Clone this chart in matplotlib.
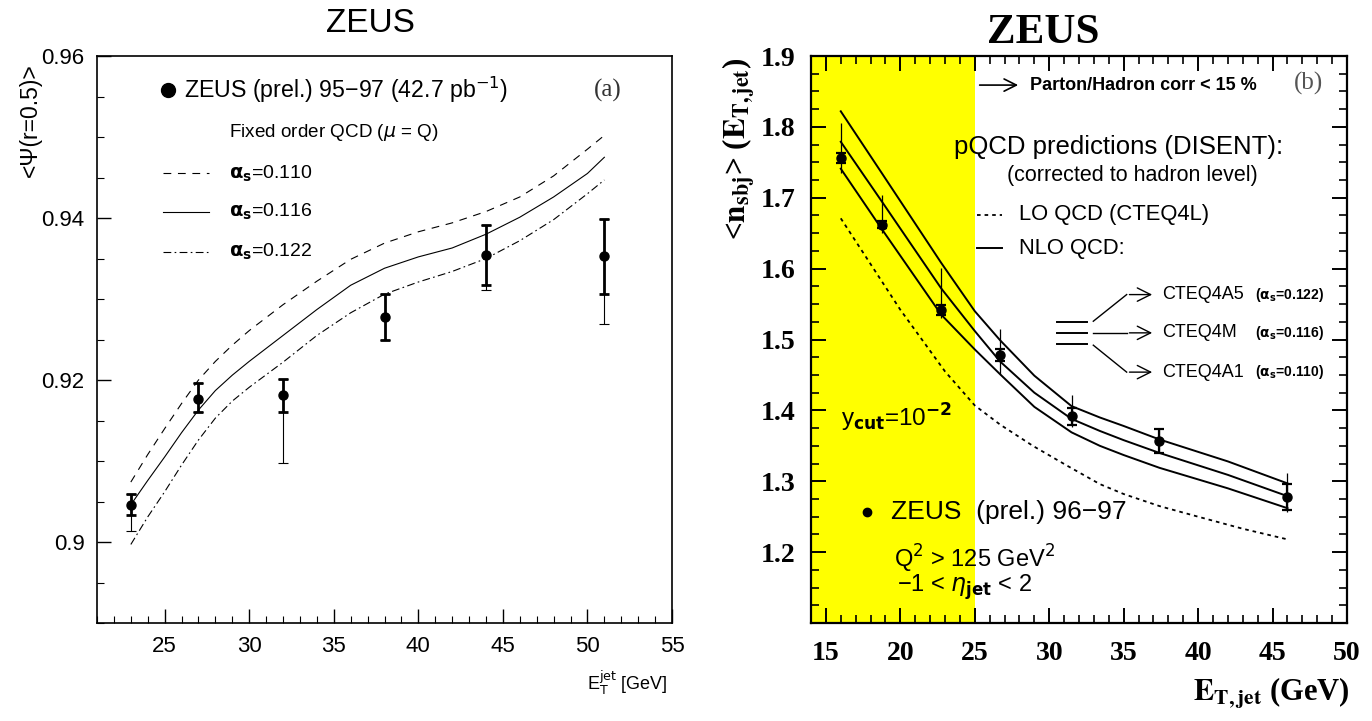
import numpy as np
import matplotlib.pyplot as plt
from matplotlib.ticker import MultipleLocator, FixedLocator

plt.rcParams['font.family'] = ['Liberation Sans', 'DejaVu Sans']

# ---- panel (a): <psi(r=0.5)> vs ET jet ----
et_a = [23, 27, 32, 38, 44, 51]
psi = [0.9046, 0.9177, 0.9181, 0.9278, 0.9354, 0.9353]
psi_stat_lo = [0.0013, 0.0017, 0.0020, 0.0028, 0.0037, 0.0047]
psi_stat_hi = [0.0013, 0.0019, 0.0020, 0.0028, 0.0037, 0.0046]
psi_tot_lo = [0.0032, 0.0017, 0.0084, 0.0028, 0.0043, 0.0084]
psi_tot_hi = [0.0013, 0.0019, 0.0020, 0.0028, 0.0037, 0.0046]

et_curve_a = [23, 24, 25, 26, 27, 28, 29, 30, 32, 34, 36, 38, 40, 42, 44, 46, 48, 50, 51]
psi_a110 = [0.9074, 0.9108, 0.9140, 0.9171, 0.9200, 0.9223, 0.9243, 0.9261, 0.9293, 0.9322,
            0.9349, 0.9369, 0.9383, 0.9394, 0.9408, 0.9426, 0.9452, 0.9485, 0.9502]
psi_a116 = [0.9046, 0.9076, 0.9105, 0.9135, 0.9163, 0.9187, 0.9206, 0.9223, 0.9255, 0.9287,
            0.9317, 0.9338, 0.9352, 0.9363, 0.9380, 0.9401, 0.9426, 0.9455, 0.9475]
psi_a122 = [0.8997, 0.9031, 0.9062, 0.9095, 0.9126, 0.9153, 0.9174, 0.9191, 0.9222, 0.9255,
            0.9283, 0.9306, 0.9321, 0.9334, 0.9350, 0.9372, 0.9398, 0.9430, 0.9447]

# ---- panel (b): <n_sbj> vs ET jet ----
et_b = [16.0, 18.75, 22.75, 26.7, 31.55, 37.4, 46.0]
nsbj = [1.756, 1.662, 1.542, 1.478, 1.392, 1.357, 1.278]
nsbj_stat = [0.007, 0.005, 0.007, 0.008, 0.012, 0.017, 0.018]
nsbj_tot_lo = [0.021, 0.012, 0.012, 0.027, 0.016, 0.017, 0.022]
nsbj_tot_hi = [0.049, 0.042, 0.059, 0.037, 0.030, 0.017, 0.033]

et_nlo = [16, 18.75, 22.75, 25, 26.7, 29, 31.5, 33.4, 35, 37.4, 42, 46]
nlo_122 = [1.822, 1.735, 1.608, 1.540, 1.499, 1.449, 1.406, 1.390, 1.378, 1.359, 1.328, 1.297]
nlo_116 = [1.779, 1.695, 1.572, 1.512, 1.469, 1.425, 1.388, 1.371, 1.358, 1.340, 1.309, 1.279]
nlo_110 = [1.741, 1.656, 1.535, 1.486, 1.451, 1.405, 1.369, 1.350, 1.337, 1.319, 1.290, 1.262]

et_lo = [16, 20, 23, 25, 26.7, 28.9, 31.2, 33.4, 35, 37.4, 40, 43, 46]
lo_cteq4l = [1.671, 1.542, 1.455, 1.407, 1.380, 1.350, 1.322, 1.296, 1.282, 1.265, 1.250, 1.233, 1.218]

fig = plt.figure(figsize=(13.72, 7.21), dpi=100)

# ================= left panel =================
ax1 = fig.add_axes([0.0707, 0.1359, 0.4191, 0.7864])
ax1.plot(et_curve_a, psi_a110, color='black', lw=0.8, dashes=(7, 6))
ax1.plot(et_curve_a, psi_a116, color='black', lw=0.8)
ax1.plot(et_curve_a, psi_a122, color='black', lw=0.8, dashes=(7, 3, 1.5, 3))

ax1.errorbar(et_a, psi, yerr=[psi_tot_lo, psi_tot_hi], fmt='none', ecolor='black',
             elinewidth=0.8, capsize=3.6, capthick=0.8)
ax1.errorbar(et_a, psi, yerr=[psi_stat_lo, psi_stat_hi], fmt='o', color='black',
             ms=6.5, elinewidth=2.0, capsize=3.6, capthick=2.0)

ax1.set_xlim(21, 55)
ax1.set_ylim(0.89, 0.96)
ax1.xaxis.set_major_locator(MultipleLocator(5))
ax1.xaxis.set_minor_locator(MultipleLocator(1))
ax1.yaxis.set_major_locator(FixedLocator([0.90, 0.92, 0.94, 0.96]))
ax1.yaxis.set_minor_locator(MultipleLocator(0.005))
ax1.set_yticklabels(['0.9', '0.92', '0.94', '0.96'])
ax1.tick_params(which='both', direction='in', top=False, right=False, labelsize=16)
ax1.tick_params(which='major', length=10, width=1.0)
ax1.tick_params(which='minor', length=5, width=0.8)
ax1.tick_params(axis='y', pad=9)
ax1.tick_params(axis='x', pad=9)
for s in ax1.spines.values():
    s.set_linewidth(1.2)

# legend of panel (a)
ax1.plot([25.22], [0.9558], 'o', color='black', ms=10)
ax1.text(26.16, 0.9558, 'ZEUS (prel.) 95\u221297 (42.7 pb$^{-1}$)', fontsize=16.7,
         va='center', ha='left', math_fontfamily='dejavusans')
ax1.text(51.2, 0.9558, '(a)', fontsize=18, va='center', ha='center',
         family='Liberation Serif', color='#333333')
ax1.text(28.82, 0.9506, r'Fixed order QCD ($\mu$ = Q)', fontsize=13.6, va='center', ha='left')
leg_y = [0.9455, 0.9408, 0.9358]
leg_lab = [r'$\mathbf{\alpha_s}$=0.110', r'$\mathbf{\alpha_s}$=0.116', r'$\mathbf{\alpha_s}$=0.122']
leg_dash = [(7, 6), None, (7, 3, 1.5, 3)]
for yy, lab, ds in zip(leg_y, leg_lab, leg_dash):
    ln, = ax1.plot([24.88, 27.64], [yy, yy], color='black', lw=0.8)
    if ds is not None:
        ln.set_dashes(ds)
    ax1.text(28.82, yy, lab, fontsize=14, va='center', ha='left', math_fontfamily='dejavusans')

fig.text(370 / 1372, 0.968, 'ZEUS', fontsize=24, ha='center', va='center')
fig.text(0.0219, 0.9126, '<\u03a8(r=0.5)>', fontsize=16.5, rotation=90, ha='center', va='top')
fig.text(668 / 1372, 1 - 683 / 721, r'E$_\mathrm{T}^\mathrm{jet}$ [GeV]', fontsize=13,
         ha='right', va='center', math_fontfamily='dejavusans')

# ================= right panel =================
ax2 = fig.add_axes([0.5911, 0.1359, 0.3907, 0.7864])
ax2.axvspan(14, 25, color='#ffff00', lw=0, zorder=0)
ax2.plot(et_nlo, nlo_122, color='black', lw=1.4)
ax2.plot(et_nlo, nlo_116, color='black', lw=1.4)
ax2.plot(et_nlo, nlo_110, color='black', lw=1.4)
ax2.plot(et_lo, lo_cteq4l, color='black', lw=1.3, dashes=(2, 2.2))

ax2.errorbar(et_b, nsbj, yerr=[nsbj_tot_lo, nsbj_tot_hi], fmt='none', ecolor='black',
             elinewidth=0.9, capsize=0)
ax2.errorbar(et_b, nsbj, yerr=nsbj_stat, fmt='o', color='black', ms=6.5,
             elinewidth=1.6, capsize=3.5, capthick=1.6)

ax2.set_xlim(14, 50)
ax2.set_ylim(1.1, 1.9)
ax2.xaxis.set_major_locator(MultipleLocator(5))
ax2.xaxis.set_minor_locator(MultipleLocator(1))
ax2.yaxis.set_major_locator(FixedLocator([1.2, 1.3, 1.4, 1.5, 1.6, 1.7, 1.8, 1.9]))
ax2.yaxis.set_minor_locator(MultipleLocator(0.025))
ax2.tick_params(which='both', direction='in', top=True, right=True, labelsize=20)
ax2.tick_params(which='major', length=11, width=1.4)
ax2.tick_params(which='minor', length=6, width=1.2)
ax2.tick_params(axis='y', pad=11)
ax2.tick_params(axis='x', pad=13)
for lab in ax2.get_xticklabels() + ax2.get_yticklabels():
    lab.set_family('Liberation Serif')
    lab.set_fontweight('bold')
for s in ax2.spines.values():
    s.set_linewidth(1.6)

# annotations of panel (b)
ax2.text(47.4, 1.862, '(b)', fontsize=18, va='center', ha='center',
         family='Liberation Serif', color='#555555')
ax2.annotate('', xy=(28.1, 1.859), xytext=(25.14, 1.859),
             arrowprops=dict(arrowstyle='->', lw=1.2, mutation_scale=22, color='black'))
ax2.text(28.7, 1.859, 'Parton/Hadron corr < 15 %', fontsize=13, fontweight='bold',
         va='center', ha='left')
ax2.text(23.6, 1.772, 'pQCD predictions (DISENT):', fontsize=18.5, va='center', ha='left')
ax2.text(35.6, 1.732, '(corrected to hadron level)', fontsize=15.5, va='center', ha='center')
ax2.plot([25.14, 26.82], [1.676, 1.676], color='black', lw=1.3, dashes=(2, 2.2))
ax2.text(28.0, 1.676, 'LO QCD (CTEQ4L)', fontsize=15.8, va='center', ha='left')
ax2.plot([25.14, 26.82], [1.629, 1.629], color='black', lw=1.4)
ax2.text(28.0, 1.629, 'NLO QCD:', fontsize=15.8, va='center', ha='left')

for yy in [1.5244, 1.5094, 1.4939]:
    ax2.plot([30.49, 32.52], [yy, yy], color='black', lw=1.4)
branch_y = [1.5634, 1.5094, 1.454]
branch_start = [1.5258, 1.5094, 1.492]
branch_lab = ['CTEQ4A5', 'CTEQ4M', 'CTEQ4A1']
branch_as = [r'($\mathbf{\alpha_s}$=0.122)', r'($\mathbf{\alpha_s}$=0.116)', r'($\mathbf{\alpha_s}$=0.110)']
for yb, ys, lab, alab in zip(branch_y, branch_start, branch_lab, branch_as):
    ax2.plot([32.96, 35.2], [ys, yb], color='black', lw=1.0)
    ax2.annotate('', xy=(37.1, yb), xytext=(35.2, yb),
                 arrowprops=dict(arrowstyle='->', lw=1.0, mutation_scale=24, color='black'))
    ax2.text(37.6, yb, lab, fontsize=13, va='center', ha='left')
    ax2.text(43.8, yb, alab, fontsize=10, fontweight='bold', va='center', ha='left',
             math_fontfamily='dejavusans')

ax2.text(16.03, 1.390, r'y$_{\mathbf{cut}}$=10$^{\mathbf{-2}}$', fontsize=17.5, va='center',
         ha='left', math_fontfamily='dejavusans')
ax2.plot([17.79], [1.257], 'o', color='black', ms=6)
ax2.text(19.39, 1.257, 'ZEUS  (prel.) 96\u221297', fontsize=19, va='center', ha='left')
ax2.text(19.59, 1.190, r'Q$^2$ > 125 GeV$^2$', fontsize=17, va='center', ha='left',
         math_fontfamily='dejavusans')
ax2.text(19.77, 1.150, '\u22121 < $\\eta_{\\mathbf{jet}}$ < 2',
         fontsize=17, va='center', ha='left', math_fontfamily='dejavusans')

fig.text(1043 / 1372, 0.954, 'ZEUS', fontsize=31, fontweight='bold', family='Liberation Serif',
         ha='center', va='center')
fig.text(739 / 1372, 0.921, r'<$\mathbf{n_{sbj}}$> ($\mathbf{E_{T,jet}}$)', fontsize=22.5,
         fontweight='bold', family='Liberation Serif', rotation=90, ha='center', va='top',
         math_fontfamily='stix')
fig.text(1350 / 1372, 1 - 693 / 721, r'$\mathbf{E_{T,jet}}$ (GeV)', fontsize=22,
         fontweight='bold', family='Liberation Serif', ha='right', va='center',
         math_fontfamily='stix')

fig.savefig('out.png', dpi=100)
